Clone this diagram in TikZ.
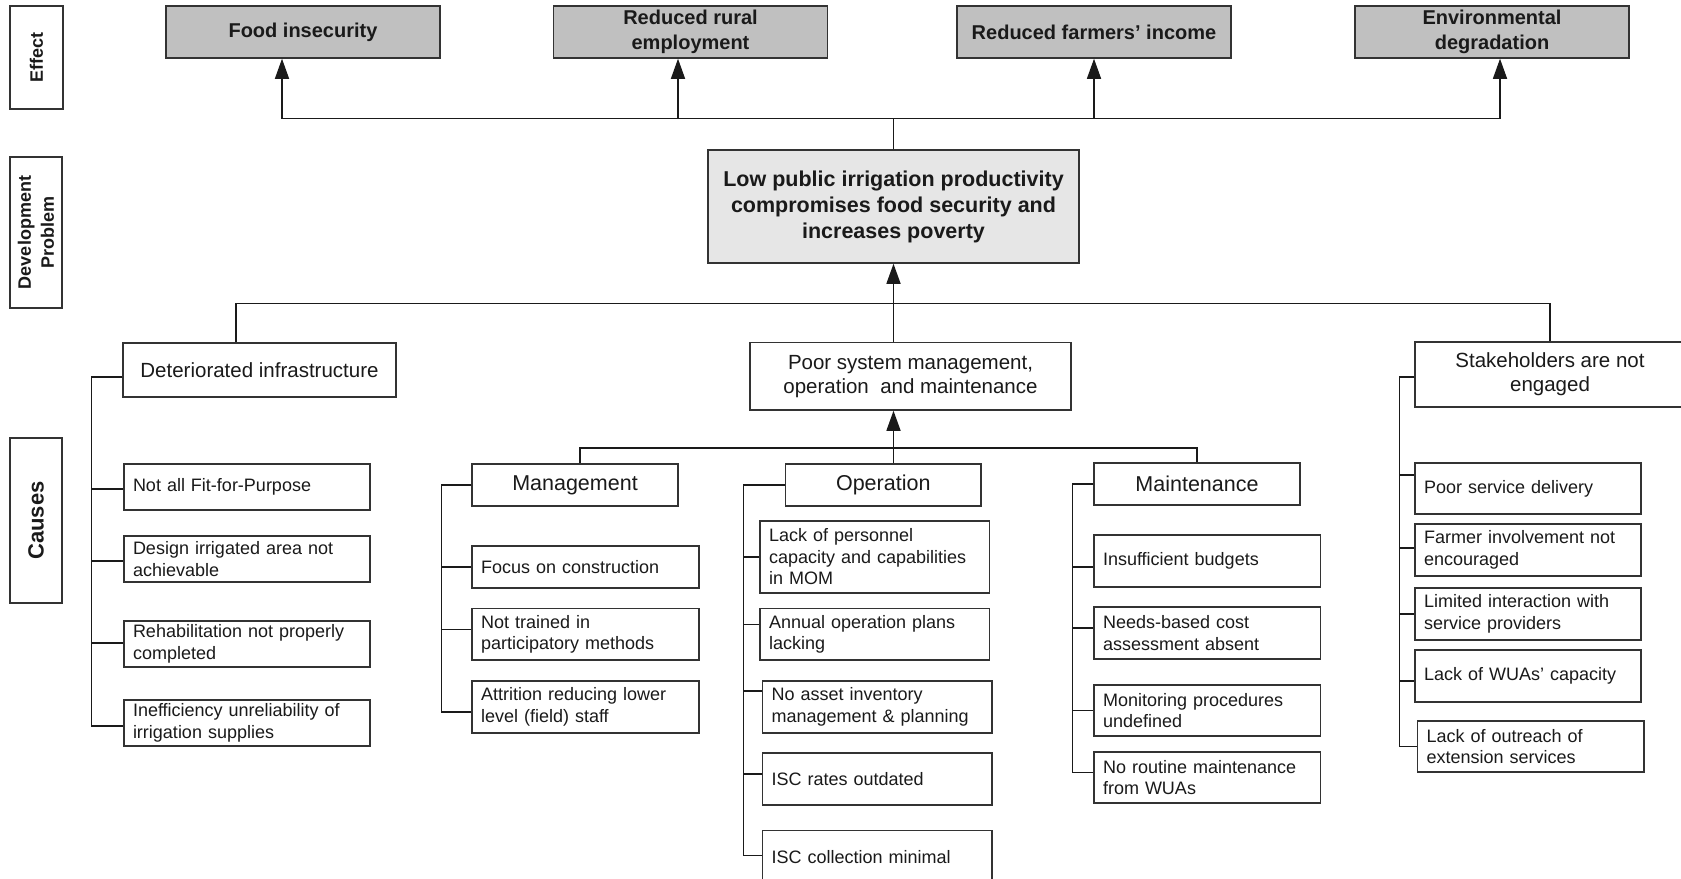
\documentclass[tikz,border=0pt]{standalone}
\usepackage{fontspec}
\setmainfont{Liberation Sans}
\usetikzlibrary{arrows.meta,calc}
\definecolor{effgray}{HTML}{C0C0C0}
\definecolor{maingray}{HTML}{E6E6E6}
\definecolor{edge}{HTML}{333333}
\definecolor{ink}{HTML}{1A1A1A}
\begin{document}
\begin{tikzpicture}[x=1pt,y=-1pt,
  base/.style={draw=edge, line width=1.5pt, inner sep=0pt, text=ink},
  effbox/.style={base, fill=effgray, minimum width=274pt, minimum height=52pt, font=\bfseries\fontsize{20}{24.5}\selectfont, align=center},
  mainbox/.style={base, fill=maingray, font=\bfseries\fontsize{21.5}{26}\selectfont, align=center},
  sidelab/.style={base, fill=white, rotate=90, align=center, font=\bfseries\fontsize{18}{23}\selectfont},
  headbox/.style={base, fill=white, font=\fontsize{20.5}{24}\selectfont, align=center},
  subhead/.style={headbox, font=\fontsize{21.5}{25}\selectfont},
  leafbox/.style={base, fill=white, font=\fontsize{18}{21.5}\selectfont, align=left, inner xsep=9pt},
  conn/.style={draw=ink, line width=1.4pt},
  arr/.style={conn, -{Triangle[length=20pt,width=14pt]}}]
\useasboundingbox (0,0) rectangle (1681,878);
\fill[white] (0,0) rectangle (1681,878);

% side labels
\node[sidelab, minimum width=103pt, minimum height=53pt] (effl) at (36.5,57.5) {Effect};
\node[sidelab, minimum width=151pt, minimum height=52pt] (devl) at (36,232.5) {Development\\Problem};
\node[sidelab, minimum width=165pt, minimum height=52pt, font=\bfseries\fontsize{22}{26}\selectfont] (causl) at (36,520.5) {Causes};

% effects
\node[effbox] (food) at (303,32) {Food insecurity};
\node[effbox] (rural) at (690.5,32) {Reduced rural\\employment};
\node[effbox] (farm) at (1094,32) {Reduced farmers’ income};
\node[effbox] (env) at (1492,32) {Environmental\\degradation};

% main problem
\node[mainbox, minimum width=371pt, minimum height=113pt] (main) at (893.5,206.5) {Low public irrigation productivity\\compromises food security and\\increases poverty};

% headings
\node[headbox, minimum width=273pt, minimum height=54pt] (di) at (259.5,370) {Deteriorated infrastructure};
\node[headbox, minimum width=321pt, minimum height=67.5pt] (psm) at (910.5,376.25) {Poor system management,\\operation\ \ and maintenance};
\node[headbox, minimum width=270pt, minimum height=65pt] (stake) at (1550,374.5) {Stakeholders are not\\engaged};
\node[subhead, minimum width=206pt, minimum height=42pt] (mgmt) at (575,485) {Management};
\node[subhead, minimum width=195.5pt, minimum height=42pt] (oper) at (883.25,485) {Operation};
\node[subhead, minimum width=206pt, minimum height=42pt] (maint) at (1197,484) {Maintenance};

% infrastructure leaves
\node[leafbox, minimum width=246pt, text width=228pt, minimum height=46pt] (d1) at (247,487) {Not all Fit-for-Purpose};
\node[leafbox, minimum width=246pt, text width=228pt, minimum height=46pt] (d2) at (247,559) {Design irrigated area not\\achievable};
\node[leafbox, minimum width=246pt, text width=228pt, minimum height=46pt] (d3) at (247,644) {Rehabilitation not properly\\completed};
\node[leafbox, minimum width=246pt, text width=228pt, minimum height=46pt] (d4) at (247,723) {Inefficiency unreliability of\\irrigation supplies};

% management leaves
\node[leafbox, minimum width=227pt, text width=209pt, minimum height=42pt] (m1) at (585.5,567) {Focus on construction};
\node[leafbox, minimum width=227pt, text width=209pt, minimum height=51.4pt] (m2) at (585.5,634.3) {Not trained in\\participatory methods};
\node[leafbox, minimum width=227pt, text width=209pt, minimum height=52pt] (m3) at (585.5,707) {Attrition reducing lower\\level (field) staff};

% operation leaves
\node[leafbox, minimum width=229.5pt, text width=211.5pt, minimum height=72pt] (o1) at (874.75,557) {Lack of personnel\\capacity and capabilities\\in MOM};
\node[leafbox, minimum width=229.5pt, text width=211.5pt, minimum height=51.4pt] (o2) at (874.75,634.3) {Annual operation plans\\lacking};
\node[leafbox, minimum width=229.5pt, text width=211.5pt, minimum height=52pt] (o3) at (877.25,707) {No asset inventory\\management \& planning};
\node[leafbox, minimum width=229.5pt, text width=211.5pt, minimum height=52pt] (o4) at (877.25,779) {ISC rates outdated};
\node[leafbox, minimum width=229.5pt, text width=211.5pt, minimum height=52pt] (o5) at (877.25,856.7) {ISC collection minimal};

% maintenance leaves
\node[leafbox, minimum width=226.6pt, text width=208.6pt, minimum height=52pt] (n1) at (1207.3,561) {Insufficient budgets};
\node[leafbox, minimum width=226.6pt, text width=208.6pt, minimum height=52pt] (n2) at (1207.3,633) {Needs-based cost\\assessment absent};
\node[leafbox, minimum width=226.6pt, text width=208.6pt, minimum height=51pt] (n3) at (1207.3,710.5) {Monitoring procedures\\undefined};
\node[leafbox, minimum width=226.6pt, text width=208.6pt, minimum height=51pt] (n4) at (1207.3,777.5) {No routine maintenance\\from WUAs};

% stakeholder leaves
\node[leafbox, minimum width=226pt, text width=208pt, minimum height=51pt] (s1) at (1528,488.5) {Poor service delivery};
\node[leafbox, minimum width=226pt, text width=208pt, minimum height=52pt] (s2) at (1528,550) {Farmer involvement not\\encouraged};
\node[leafbox, minimum width=226pt, text width=208pt, minimum height=52pt] (s3) at (1528,614) {Limited interaction with\\service providers};
\node[leafbox, minimum width=226pt, text width=208pt, minimum height=52pt] (s4) at (1528,676) {Lack of WUAs' capacity};
\node[leafbox, minimum width=226.5pt, text width=208.5pt, minimum height=51pt] (s5) at (1530.75,746.5) {Lack of outreach of\\extension services};

% top connectors
\draw[arr] (main.north) -- ++(0,-31) -| ([xshift=-21pt]food.south);
\draw[arr] (main.north) -- ++(0,-31) -| ([xshift=-12.5pt]rural.south);
\draw[arr] (main.north) -- ++(0,-31) -| (farm.south);
\draw[arr] (main.north) -- ++(0,-31) -| ([xshift=8pt]env.south);

% causes bus
\draw[conn] ([xshift=-23.5pt]di.north) -- ++(0,-39) -| (stake.north);
\draw[arr] (psm.north -| main.south) -- (main.south);
\draw[conn] ([xshift=5pt]mgmt.north) -- ++(0,-15.4) -| (maint.north);
\draw[arr] (oper.north -| main.south) -- (psm.south -| main.south);

% infrastructure spine
\draw[conn] ([yshift=-7pt]di.west) -- ++(-31,0) |- ([yshift=-2pt]d1.west);
\draw[conn] ([yshift=-7pt]di.west) -- ++(-31,0) |- ([yshift=-2pt]d2.west);
\draw[conn] ([yshift=-7pt]di.west) -- ++(-31,0) |- ([yshift=1pt]d3.west);
\draw[conn] ([yshift=-7pt]di.west) -- ++(-31,0) |- ([yshift=-3pt]d4.west);

% management spine
\draw[conn] (mgmt.west) -- ++(-30,0) |- (m1.west);
\draw[conn] (mgmt.west) -- ++(-30,0) |- ([yshift=5pt]m2.west);
\draw[conn] (mgmt.west) -- ++(-30,0) |- ([yshift=-5pt]m3.west);

% operation spine
\draw[conn] (oper.west) -- ++(-41,0) |- (o1.west);
\draw[conn] (oper.west) -- ++(-41,0) |- ([yshift=10pt]o2.west);
\draw[conn] (oper.west) -- ++(-41,0) |- ([yshift=16pt]o3.west);
\draw[conn] (oper.west) -- ++(-41,0) |- ([yshift=5pt]o4.west);
\draw[conn] (oper.west) -- ++(-41,0) |- ([yshift=1pt]o5.west);

% maintenance spine
\draw[conn] (maint.west) -- ++(-20.5,0) |- ([yshift=-6pt]n1.west);
\draw[conn] (maint.west) -- ++(-20.5,0) |- ([yshift=5pt]n2.west);
\draw[conn] (maint.west) -- ++(-20.5,0) |- (n3.west);
\draw[conn] (maint.west) -- ++(-20.5,0) |- ([yshift=5pt]n4.west);

% stakeholder spine
\draw[conn] ([yshift=-2.5pt]stake.west) -- ++(-15,0) |- ([yshift=13.5pt]s1.west);
\draw[conn] ([yshift=-2.5pt]stake.west) -- ++(-15,0) |- ([yshift=2pt]s2.west);
\draw[conn] ([yshift=-2.5pt]stake.west) -- ++(-15,0) |- (s3.west);
\draw[conn] ([yshift=-2.5pt]stake.west) -- ++(-15,0) |- ([yshift=-5pt]s4.west);
\draw[conn] ([yshift=-2.5pt]stake.west) -- ++(-15,0) |- (s5.west);
\end{tikzpicture}
\end{document}
